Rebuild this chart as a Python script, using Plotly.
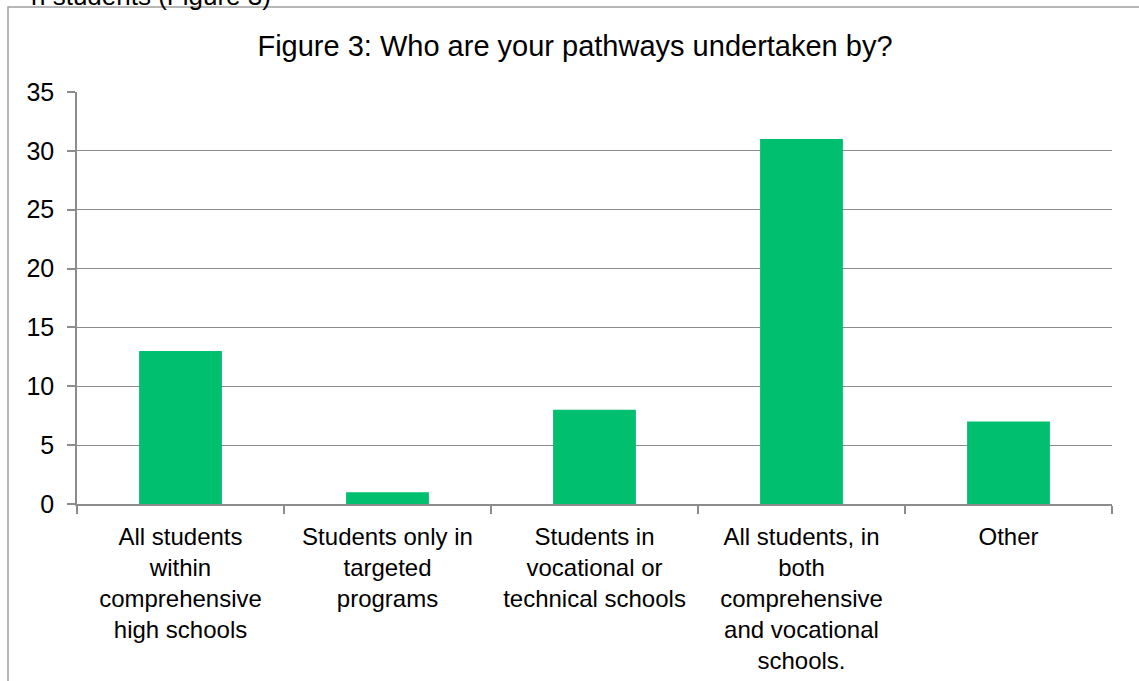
import plotly.graph_objects as go

# Survey responses: who the pathways are undertaken by
categories = [
    "All students<br>within<br>comprehensive<br>high schools",
    "Students only in<br>targeted<br>programs",
    "Students in<br>vocational or<br>technical schools",
    "All students, in<br>both<br>comprehensive<br>and vocational<br>schools.",
    "Other",
]
counts = [13, 1, 8, 31, 7]
y_ticks = [0, 5, 10, 15, 20, 25, 30, 35]

W, H = 1139, 681
# plot-area box in pixels
L, R, T, B = 77, 1112, 92, 504
FONT = "Liberation Sans, Arial, sans-serif"
GRID = "#8c8c8c"


def px_x(px):
    return (px - L) / (R - L)


def px_y(py):
    return (B - py) / (B - T)


fig = go.Figure(
    go.Bar(
        x=categories,
        y=counts,
        marker=dict(color="#00BF6F", line=dict(width=0)),
        hoverinfo="x+y",
    )
)

fig.update_layout(
    width=W,
    height=H,
    margin=dict(l=L, r=W - R, t=T, b=H - B, autoexpand=False),
    paper_bgcolor="white",
    plot_bgcolor="white",
    bargap=0.6,
    showlegend=False,
    font=dict(family=FONT, size=24, color="black"),
    title=dict(
        text="Figure 3: Who are your pathways undertaken by?",
        x=575 / W,
        xanchor="center",
        y=1 - 46 / H,
        yanchor="middle",
        font=dict(family=FONT, size=29, color="black"),
    ),
    xaxis=dict(
        automargin=False,
        showline=True,
        linecolor=GRID,
        linewidth=1.5,
        ticks="outside",
        tickson="boundaries",
        ticklen=8,
        tickcolor=GRID,
        tickwidth=1.5,
        showgrid=False,
        ticklabelstandoff=10,
        tickfont=dict(family=FONT, size=24, color="black"),
    ),
    yaxis=dict(
        automargin=False,
        range=[0, 35],
        tickvals=y_ticks,
        showline=True,
        linecolor=GRID,
        linewidth=1.5,
        ticks="outside",
        ticklen=8,
        tickcolor=GRID,
        tickwidth=1.5,
        showgrid=True,
        gridcolor=GRID,
        gridwidth=1.2,
        zeroline=False,
        ticklabelstandoff=8,
        tickfont=dict(family=FONT, size=25, color="black"),
    ),
    shapes=[
        # frame around the chart
        dict(
            type="rect",
            xref="paper",
            yref="paper",
            x0=px_x(8),
            x1=px_x(W + 10),
            y0=px_y(H + 10),
            y1=px_y(7),
            line=dict(color="#a0a0a0", width=1.5),
            fillcolor="rgba(0,0,0,0)",
            layer="below",
        )
    ],
    annotations=[
        # tail of the preceding sentence running above the frame
        dict(
            text="n students (Figure 3)",
            xref="paper",
            yref="paper",
            x=px_x(273),
            xanchor="right",
            y=px_y(-4),
            yanchor="middle",
            showarrow=False,
            font=dict(family=FONT, size=26, color="black"),
        )
    ],
)

fig.write_html("out.html")
